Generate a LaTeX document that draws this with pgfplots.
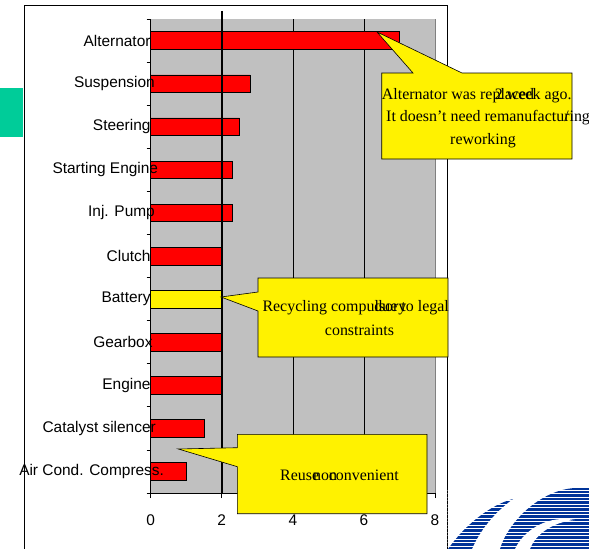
\documentclass[border=0pt]{standalone}
\usepackage{fontspec}
\setmainfont{Liberation Serif}
\setsansfont{Liberation Sans}
\usepackage{pgfplots}
\usepackage{pgfplotstable}
\pgfplotsset{compat=1.18}

\definecolor{plotgray}{RGB}{192,192,192}
\definecolor{sidegreen}{RGB}{0,204,153}
\definecolor{logoblue}{RGB}{0,51,153}

% y = category index from the top, x = value
\pgfplotstableread{
y x
0 7
1 2.8
2 2.5
3 2.3
4 2.3
5 2
7 2
8 2
9 1.5
10 1
}\redbars
\pgfplotstableread{
y x
6 2
}\yellowbars

\begin{document}
\begin{tikzpicture}
\useasboundingbox (0,0) rectangle (589bp,-549bp);
\fill[sidegreen] (0,-88.3bp) rectangle (23.3bp,-137.3bp);
\draw[line width=1bp] (24bp,-549bp) -- (24bp,-5bp) -- (447bp,-5bp) -- (447bp,-549bp);

\begin{axis}[
    at={(150.7bp,-493bp)}, anchor=south west,
    scale only axis, width=284.3bp, height=474bp,
    xbar, bar width=17.6bp, bar shift=0pt,
    xmin=0, xmax=8, ymin=-0.5, ymax=10.5, y dir=reverse,
    axis background/.style={fill=plotgray},
    axis on top,
    axis x line*=bottom, axis y line*=left,
    axis line style={black, line width=0.8bp},
    xtick={0,2,4,6,8},
    ytick={0,...,10},
    yticklabels={Alternator, Suspension\kern-4.3bp, Steering, Starting Engine\kern-7.6bp,
        Inj. Pump\kern-4.3bp, Clutch, Battery, Gearbox\kern-2bp, Engine,
        Catalyst silencer\kern-5.3bp, Air Cond. Compress.\kern-13.5bp},
    minor ytick={-0.5,0.5,...,10.5},
    tick align=outside, major tick length=5bp, minor tick length=4bp,
    tick style={black, line width=0.8bp},
    major y tick style={draw=none},
    ticklabel style={font=\fontsize{15.5}{18}\selectfont\sffamily},
    /pgf/number format/assume math mode=true,
    yticklabel style={anchor=east, inner sep=0pt, xshift=5bp},
    xticklabel style={anchor=north, inner sep=0pt, yshift=-17bp},
    clip=false,
]
% grid lines behind the bars
\draw[black, line width=0.7bp] (axis cs:4,-0.5) -- (axis cs:4,10.5);
\draw[black, line width=0.7bp] (axis cs:6,-0.5) -- (axis cs:6,10.5);
\draw[gray, line width=0.8bp] (axis cs:8,-0.5) -- (axis cs:8,10.5);
\addplot[fill=red, draw=black, line width=0.6bp] table[x=x, y=y] {\redbars};
\addplot[fill=yellow, draw=black, line width=0.6bp] table[x=x, y=y] {\yellowbars};
\draw[black, line width=2bp] (axis cs:2,-0.686) -- (axis cs:2,10.5);
\end{axis}

\begin{scope}[x=1bp, y=-1bp, font=\fontsize{16}{22.8}\selectfont]
% callout: alternator
\filldraw[fill=yellow, draw=black, line width=0.6bp]
    (381.7,73) -- (413,73) -- (377,32) -- (462,73) -- (572,73) -- (572,159) -- (381.7,159) -- cycle;
\node[anchor=base west, inner sep=0] at (381.7,99.5) {Alternator was replaced};
\node[anchor=base east, inner sep=0] at (571.7,99.5) {2 week ago.};
\node[anchor=base west, inner sep=0] at (386,121.8) {It doesn’t need remanufacturing};
\node[anchor=base, inner sep=0] at (566.7,121.8) {/};
\node[anchor=base, inner sep=0] at (483,144) {reworking};
% callout: battery
\filldraw[fill=yellow, draw=black, line width=0.6bp]
    (258,278) -- (448,278) -- (448,357) -- (258,357) -- (258,311) -- (221,297) -- (258,292) -- cycle;
\node[anchor=base west, inner sep=0] at (262.3,311.7) {Recycling compulsory};
\node[anchor=base east, inner sep=0] at (449,311.7) {due to legal};
\node[anchor=base, inner sep=0] at (359.5,335.5) {constraints};
% callout: air conditioning compressor
\filldraw[fill=yellow, draw=black, line width=0.6bp]
    (237.3,434.3) -- (427,434.3) -- (427,513.7) -- (237.3,513.7) -- (237.3,466.7) -- (178.3,449) -- (237.3,447.7) -- cycle;
\node[anchor=base west, inner sep=0] at (280,480) {Reuse};
\node[anchor=base west, inner sep=0] at (313,480) {non};
\node[anchor=base east, inner sep=0] at (399,480) {convenient};
% logo
\begin{scope}
\clip (447.6,485) rectangle (589,549);
\fill[logoblue] (448,549) .. controls (465,525) and (490,505) .. (513,499)
    .. controls (495,512) and (480,530) .. (472,549) -- cycle;
\fill[logoblue] (500,549) .. controls (508,522) and (540,490) .. (575,488)
    -- (589,488) -- (589,549) -- cycle;
\fill[white] (515,549) .. controls (525,528) and (550,515) .. (575,520)
    .. controls (552,522) and (535,535) .. (530,549) -- cycle;
\foreach \yy in {490,493.5,...,549} \draw[white, line width=0.9bp] (447,\yy) -- (589,\yy);
\end{scope}
\end{scope}
\end{tikzpicture}
\end{document}
